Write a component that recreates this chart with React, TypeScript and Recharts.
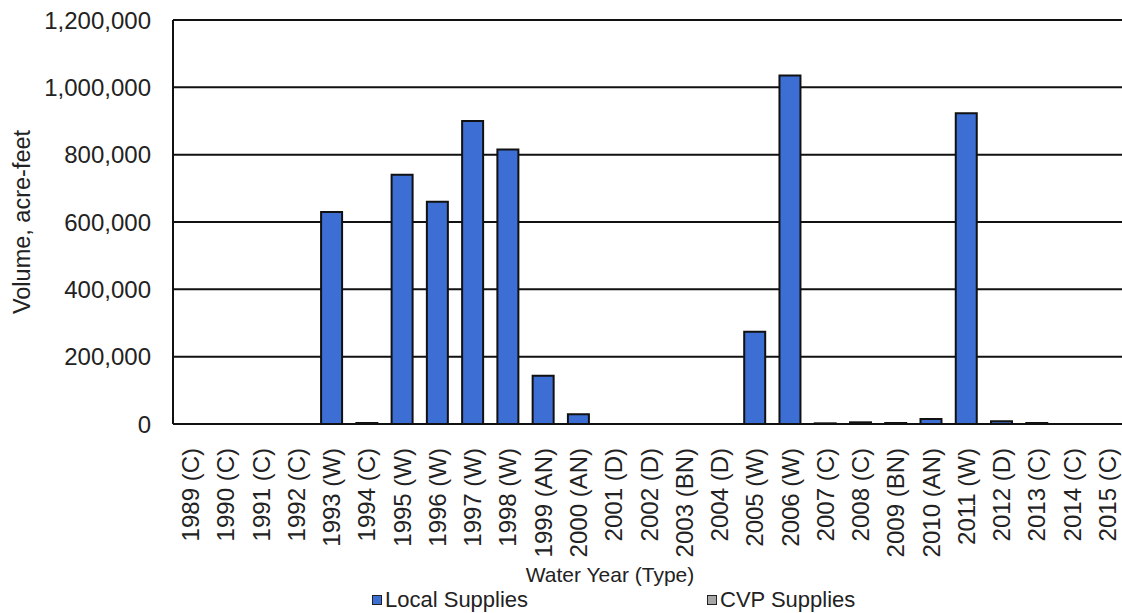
import React from 'react';
import { BarChart, Bar, XAxis, YAxis, CartesianGrid, Legend, Label } from 'recharts';

const waterYears = [
  '1989 (C)', '1990 (C)', '1991 (C)', '1992 (C)', '1993 (W)', '1994 (C)', '1995 (W)',
  '1996 (W)', '1997 (W)', '1998 (W)', '1999 (AN)', '2000 (AN)', '2001 (D)', '2002 (D)',
  '2003 (BN)', '2004 (D)', '2005 (W)', '2006 (W)', '2007 (C)', '2008 (C)', '2009 (BN)',
  '2010 (AN)', '2011 (W)', '2012 (D)', '2013 (C)', '2014 (C)', '2015 (C)',
];

const localSupplies = [
  0, 0, 0, 0, 630000, 3000, 740000, 660000, 900000, 815000, 143000, 29000, 0, 0,
  0, 0, 274000, 1035000, 2000, 5000, 3000, 15000, 923000, 8000, 3000, 0, 0,
];

const cvpSupplies = [
  0, 0, 0, 0, 0, 0, 0, 0, 0, 0, 0, 0, 0, 0,
  0, 0, 0, 0, 0, 0, 0, 0, 0, 0, 0, 0, 0,
];

const yTicks = [0, 200000, 400000, 600000, 800000, 1000000, 1200000];

const data = waterYears.map((year, i) => ({
  year,
  local: localSupplies[i],
  cvp: cvpSupplies[i],
}));

const FONT = '"Liberation Sans", Arial, sans-serif';
const TEXT = '#222';
const BLUE = '#3c6ed3';
const GREY = '#a6a6a6';

const YearTick = (props: any) => {
  const { x, y, payload } = props;
  return (
    <text
      x={x}
      y={y + 16}
      transform={`rotate(-90, ${x}, ${y + 16})`}
      textAnchor="end"
      dominantBaseline="central"
      fontSize={24}
      fontFamily={FONT}
      fill={TEXT}
    >
      {payload.value}
    </text>
  );
};

const LegendContent = () => (
  <div style={{ position: 'absolute', top: 0, left: 0, width: 1122, height: 0 }}>
    {[
      { name: 'Local Supplies', color: BLUE, left: 372 },
      { name: 'CVP Supplies', color: GREY, left: 707 },
    ].map((item) => (
      <div
        key={item.name}
        style={{
          position: 'absolute',
          left: item.left,
          top: 0,
          display: 'flex',
          alignItems: 'center',
          whiteSpace: 'nowrap',
          fontFamily: FONT,
          fontSize: 22,
          color: TEXT,
          lineHeight: '24px',
        }}
      >
        <span
          style={{
            display: 'inline-block',
            width: 8,
            height: 8,
            background: item.color,
            border: '1.5px solid #222',
            marginRight: 3,
          }}
        />
        {item.name}
      </div>
    ))}
  </div>
);

export default function App() {
  return (
    <div style={{ position: 'absolute', left: 0, top: 0, width: 1122, height: 613, overflow: 'hidden', background: '#fff' }}>
      <BarChart
        width={1130}
        height={613}
        data={data}
        margin={{ top: 20, right: 5, bottom: 0, left: 0 }}
        barCategoryGap="20%"
      >
        <CartesianGrid horizontal vertical={false} stroke="#111" strokeWidth={2} />
        <XAxis
          dataKey="year"
          interval={0}
          height={189}
          tick={<YearTick />}
          tickLine={false}
          axisLine={{ stroke: '#111', strokeWidth: 2 }}
        >
          <Label
            value="Water Year (Type)"
            position="insideBottom"
            offset={31}
            dx={-39}
            style={{ fontSize: 21, fontFamily: FONT, fill: TEXT }}
          />
        </XAxis>
        <YAxis
          width={173}
          domain={[0, 1200000]}
          ticks={yTicks}
          interval={0}
          tickSize={0}
          tickMargin={22}
          tickLine={false}
          axisLine={{ stroke: '#111', strokeWidth: 2 }}
          tick={{ fontSize: 24, fontFamily: FONT, fill: TEXT }}
          tickFormatter={(v: number) => v.toLocaleString('en-US')}
        >
          <Label
            value="Volume, acre-feet"
            angle={-90}
            position="insideLeft"
            offset={22}
            style={{ fontSize: 23.5, fontFamily: FONT, fill: TEXT, textAnchor: 'middle' }}
          />
        </YAxis>
        <Legend
          content={<LegendContent />}
          wrapperStyle={{ top: 588, left: 0, bottom: 'auto', width: 1122, height: 0 }}
        />
        <Bar
          dataKey="local"
          name="Local Supplies"
          stackId="a"
          fill={BLUE}
          stroke="#111"
          strokeWidth={2}
          isAnimationActive={false}
        />
        <Bar
          dataKey="cvp"
          name="CVP Supplies"
          stackId="a"
          fill={GREY}
          stroke="#111"
          strokeWidth={2}
          isAnimationActive={false}
        />
      </BarChart>
    </div>
  );
}
